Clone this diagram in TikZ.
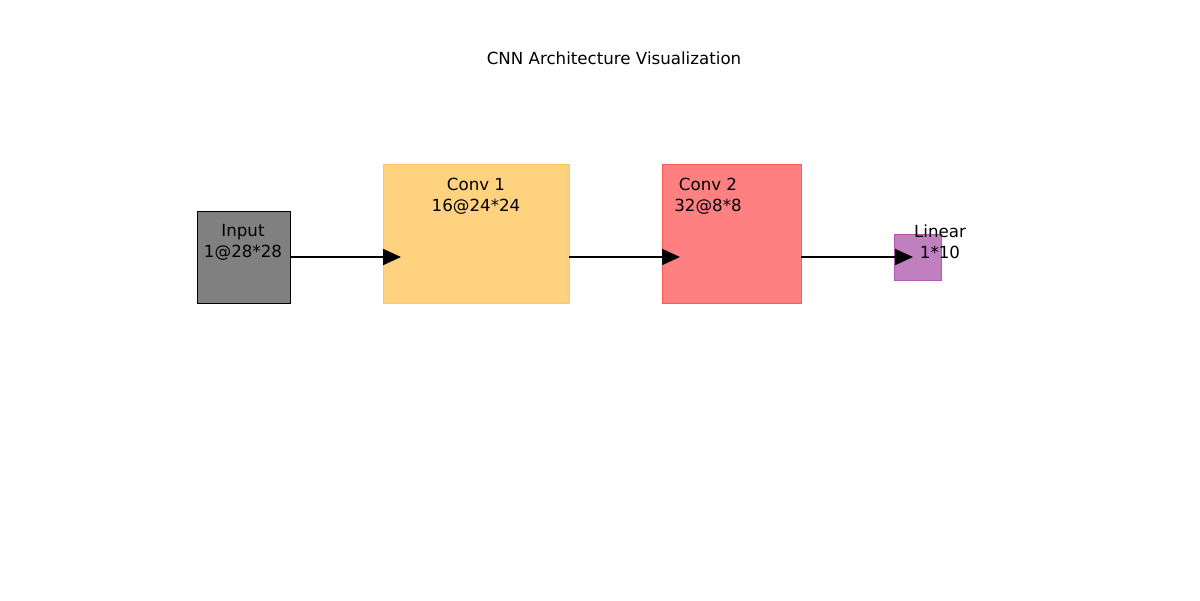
\documentclass[tikz,border=0pt]{standalone}
\usepackage{fontspec}
\setmainfont{DejaVu Sans}
\usetikzlibrary{arrows.meta}
\definecolor{inputfill}{HTML}{808080}
\definecolor{convAfill}{HTML}{FFD280}
\definecolor{convAedge}{HTML}{FFC660}
\definecolor{convBfill}{HTML}{FF8080}
\definecolor{convBedge}{HTML}{FF5A5A}
\definecolor{linfill}{HTML}{C080C0}
\definecolor{linedge}{HTML}{AE5AAE}
\tikzset{
  layerbox/.style={inner sep=0pt, outer sep=0pt, line width=0.72pt},
  layerlabel/.style={font=\fontsize{12pt}{15pt}\selectfont, align=center, inner sep=0pt},
  flow/.style={line width=1.4pt, -{Triangle[length=18*0.72pt, width=16*0.72pt]}}
}
\begin{document}
\begin{tikzpicture}[x=0.72pt, y=-0.72pt]
\useasboundingbox (0,0) rectangle (1200,600);
\node[font=\fontsize{12pt}{14.4pt}\selectfont, inner sep=0pt] (title) at (614,58) {CNN Architecture Visualization};
% boxes
\path[layerbox, fill=inputfill, draw=black] (197,211) rectangle (290,303);
\node[inner sep=0pt, minimum width=93*0.72pt, minimum height=92*0.72pt] (in) at (243.5,257) {};
\path[layerbox, fill=convAfill, draw=convAedge] (383,164) rectangle (569,303);
\node[inner sep=0pt, minimum width=186*0.72pt, minimum height=139*0.72pt] (c1) at (476,233.5) {};
\path[layerbox, fill=convBfill, draw=convBedge] (662,164) rectangle (801,303);
\node[inner sep=0pt, minimum width=139*0.72pt, minimum height=139*0.72pt] (c2) at (731.5,233.5) {};
\path[layerbox, fill=linfill, draw=linedge] (894,234) rectangle (941,280);
\node[inner sep=0pt, minimum width=47*0.72pt, minimum height=46*0.72pt] (lin) at (917.5,257) {};
% arrow tips
\coordinate (t1) at (401,257);
\coordinate (t2) at (680,257);
\coordinate (t3) at (913,257);
\draw[flow] (in.east) -- (t1);
\draw[flow] (c1.east |- t2) -- (t2);
\draw[flow] (c2.east |- t3) -- (t3);
% labels
\node[layerlabel] (inlab) at (243,242) {Input\\1@28*28};
\node[layerlabel] (c1lab) at (476,196) {Conv 1\\16@24*24};
\node[layerlabel] (c2lab) at (708,196) {Conv 2\\32@8*8};
\node[layerlabel] (linlab) at (940,242) {Linear\\1*10};
\end{tikzpicture}
\end{document}
